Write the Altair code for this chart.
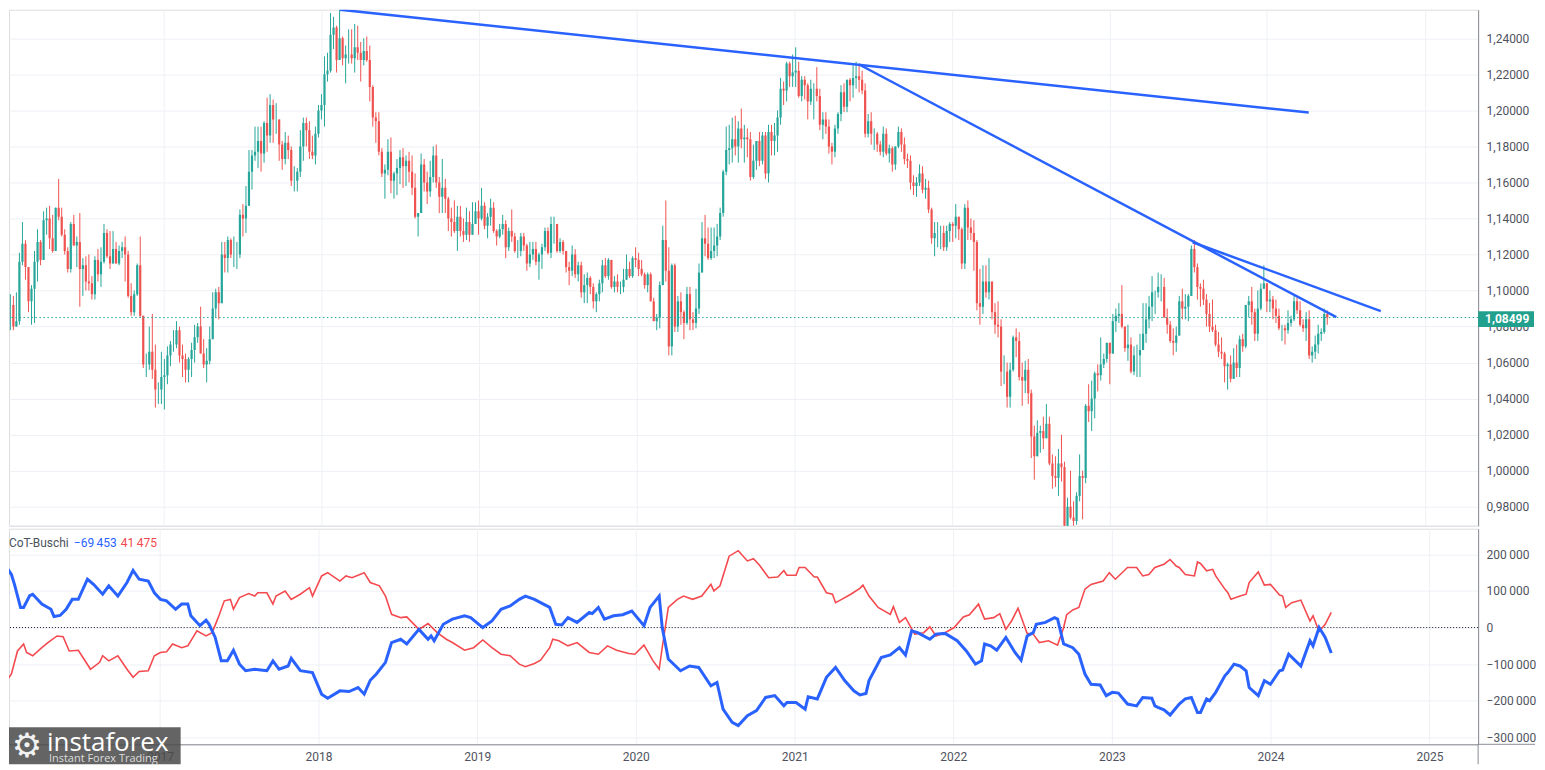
import altair as alt
import pandas as pd

# ---------------- weekly EUR/USD candles: (close, high, low) in 1/1000 ----------------
c2016 = [(1092,1097,1071),(1092,1098,1078),(1080,1097,1078),(1083,1099,1080),
         (1116,1121,1081),(1126,1138,1114),(1113,1128,1106),(1094,1112,1088),(1101,1103,1081),
         (1116,1122,1082),(1127,1134,1105),(1117,1128,1114),(1139,1144,1117),
         (1140,1146,1131),(1129,1147,1123),(1122,1142,1121),(1146,1146,1122),
         (1141,1162,1139),(1131,1146,1130),(1122,1134,1120),(1112,1124,1110),(1137,1138,1110),
         (1125,1142,1125),(1127,1130,1113),(1112,1143,1091),(1114,1118,1097),
         (1105,1119,1100),(1104,1120,1100),(1098,1108,1095),(1117,1119,1095),
         (1109,1123,1105),(1116,1124,1102),(1132,1137,1115),(1119,1134,1118),(1115,1133,1112),
         (1123,1133,1115),(1115,1127,1115),(1122,1125,1114),(1124,1127,1118),
         (1120,1130,1105),(1097,1122,1096),(1088,1104,1086),(1098,1100,1086),(1114,1115,1097),
         (1086,1130,1085),(1059,1085,1057),(1059,1065,1052),(1066,1080,1056),
         (1056,1087,1051),(1045,1070,1035),(1045,1049,1037),(1052,1066,1037)]
c2017 = [(1053,1062,1034),(1064,1069,1048),(1070,1072,1058),(1070,1078,1066),(1078,1083,1068),
         (1064,1080,1060),(1062,1070,1052),(1056,1065,1049),(1062,1063,1049),
         (1067,1071,1052),(1074,1081,1060),(1080,1082,1071),(1065,1091,1065),
         (1059,1073,1057),(1061,1068,1049),(1073,1080,1059),(1090,1099,1082),
         (1099,1101,1085),(1093,1102,1084),(1120,1127,1093),(1118,1127,1110),(1128,1130,1110),
         (1120,1129,1118),(1120,1130,1113),(1120,1127,1112),(1142,1145,1118),
         (1140,1148,1130),(1147,1158,1132),(1166,1178,1147),(1175,1178,1156),(1177,1191,1172),
         (1183,1191,1168),(1176,1191,1166),(1193,1194,1171),(1186,1207,1177),
         (1203,1209,1182),(1195,1206,1182),(1195,1204,1187),(1181,1195,1172),
         (1173,1183,1167),(1182,1188,1170),(1178,1186,1173),(1161,1180,1158),(1161,1169,1155),
         (1166,1168,1155),(1180,1189,1163),(1193,1196,1172),(1189,1196,1180),
         (1177,1194,1173),(1175,1186,1173),(1187,1191,1170),(1200,1203,1185)]
c2018 = [(1203,1209,1195),(1220,1230,1191),(1222,1232,1216),(1242,1254,1221),(1246,1252,1234),
         (1228,1247,1221),(1240,1256,1229),(1229,1241,1225),(1231,1236,1215),
         (1231,1245,1226),(1229,1245,1226),(1235,1248,1221),(1232,1247,1228),
         (1228,1238,1216),(1233,1240,1225),(1228,1241,1227),(1213,1236,1205),(1196,1214,1191),
         (1194,1199,1182),(1177,1199,1175),(1165,1179,1163),(1167,1170,1151),
         (1177,1184,1164),(1161,1185,1154),(1165,1166,1151),(1168,1173,1153),
         (1174,1178,1159),(1169,1179,1157),(1172,1175,1158),(1166,1177,1160),(1157,1175,1153),
         (1141,1165,1140),(1143,1143,1130),(1170,1176,1143),(1160,1173,1155),
         (1155,1166,1148),(1163,1172,1152),(1175,1180,1160),(1160,1181,1157),
         (1152,1163,1143),(1157,1173,1143),(1151,1162,1143),(1140,1152,1133),(1138,1146,1130),
         (1133,1150,1132),(1141,1147,1122),(1133,1147,1130),(1131,1140,1127),
         (1138,1146,1128),(1131,1144,1127),(1137,1149,1131),(1144,1149,1137),(1140,1150,1131)]
c2019 = [(1147,1157,1139),(1136,1149,1134),(1141,1143,1129),(1146,1151,1136),
         (1133,1149,1132),(1130,1134,1125),(1134,1137,1129),(1137,1142,1131),
         (1124,1139,1118),(1133,1135,1122),(1130,1145,1127),(1122,1132,1121),
         (1122,1128,1118),(1130,1132,1119),(1125,1132,1122),(1115,1126,1111),(1120,1127,1113),
         (1123,1127,1117),(1116,1127,1114),(1120,1121,1106),(1124,1126,1112),
         (1133,1135,1122),(1121,1135,1120),(1137,1141,1118),(1137,1141,1126),
         (1122,1136,1121),(1127,1129,1121),(1122,1128,1120),(1113,1122,1110),(1111,1116,1103),
         (1120,1125,1108),(1109,1123,1107),(1114,1116,1105),(1099,1116,1096),
         (1103,1109,1093),(1107,1110,1093),(1102,1108,1098),(1094,1104,1090),(1098,1099,1088),
         (1104,1106,1094),(1114,1117,1099),(1108,1118,1107),(1117,1118,1106),
         (1102,1117,1101),(1105,1108,1099),(1102,1109,1099),(1102,1105,1098),
         (1106,1112,1099),(1112,1120,1106),(1108,1116,1107),(1118,1119,1107),(1117,1124,1113)]
c2020 = [(1112,1121,1108),(1109,1117,1108),(1103,1110,1101),(1109,1110,1099),
         (1094,1110,1094),(1083,1096,1083),(1085,1087,1078),(1103,1105,1079),
         (1128,1136,1103),(1111,1150,1105),(1069,1124,1064),(1114,1115,1064),(1080,1115,1077),
         (1094,1097,1077),(1088,1099,1081),(1082,1089,1073),(1098,1102,1081),
         (1084,1102,1078),(1082,1088,1078),(1090,1101,1079),(1110,1115,1087),
         (1129,1138,1110),(1126,1142,1119),(1118,1135,1117),(1122,1135,1117),(1125,1135,1118),
         (1130,1137,1119),(1143,1146,1128),(1166,1167,1141),(1178,1191,1164),
         (1179,1192,1170),(1184,1196,1171),(1180,1197,1175),(1190,1194,1171),(1184,1201,1179),
         (1185,1192,1171),(1184,1190,1174),(1163,1188,1161),(1172,1181,1162),
         (1183,1183,1167),(1172,1188,1169),(1186,1188,1170),(1165,1188,1162),
         (1188,1192,1160),(1183,1192,1175),(1186,1193,1175),(1196,1200,1177),(1212,1218,1192),
         (1211,1216,1203),(1226,1227,1205),(1219,1227,1213),(1221,1231,1213)]
c2021 = [(1222,1235,1213),(1208,1227,1207),(1217,1219,1205),(1214,1219,1206),
         (1205,1215,1195),(1212,1217,1203),(1212,1215,1195),(1208,1224,1205),
         (1192,1212,1189),(1195,1199,1184),(1191,1199,1187),(1180,1195,1176),(1177,1182,1170),
         (1190,1192,1174),(1198,1199,1187),(1210,1214,1194),(1202,1215,1199),
         (1217,1217,1199),(1214,1218,1205),(1218,1225,1207),(1219,1227,1212),(1217,1225,1210),
         (1211,1222,1209),(1187,1215,1185),(1194,1198,1185),(1187,1199,1181),
         (1187,1190,1178),(1181,1188,1177),(1177,1183,1175),(1187,1191,1174),
         (1176,1190,1175),(1179,1181,1171),(1170,1180,1166),(1180,1180,1167),(1188,1191,1179),
         (1181,1190,1177),(1173,1185,1170),(1172,1176,1168),(1160,1175,1156),
         (1158,1164,1153),(1160,1163,1152),(1165,1170,1158),(1156,1169,1154),
         (1157,1162,1151),(1145,1161,1143),(1129,1146,1126),(1132,1138,1119),(1132,1138,1124),
         (1132,1136,1123),(1124,1136,1122),(1133,1136,1122),(1137,1138,1127)]
c2022 = [(1136,1138,1127),(1141,1148,1129),(1134,1139,1128),(1115,1135,1112),(1146,1148,1112),
         (1135,1150,1128),(1132,1140,1128),(1127,1139,1111),(1093,1128,1089),
         (1091,1112,1081),(1105,1114,1087),(1099,1114,1096),(1105,1118,1095),
         (1088,1104,1084),(1081,1093,1076),(1080,1094,1074),(1055,1084,1047),
         (1055,1064,1048),(1041,1060,1035),(1056,1060,1035),(1074,1075,1055),(1072,1079,1063),
         (1052,1077,1050),(1050,1060,1036),(1056,1061,1043),(1043,1062,1037),
         (1019,1045,1007),(1008,1025,995),(1021,1028,1008),(1022,1025,1010),
         (1018,1030,1012),(1026,1037,1018),(1004,1030,1003),(997,1009,990),(996,1008,991),
         (1004,1012,986),(1002,1020,994),(969,1005,967),(980,985,954),
         (974,1000,973),(972,983,963),(986,988,970),(997,1009,983),(996,1000,973),
         (1036,1037,993),(1033,1048,1027),(1040,1050,1022),(1054,1055,1029),
         (1053,1059,1044),(1059,1074,1050),(1062,1065,1057),(1071,1071,1060)]
c2023 = [(1065,1071,1048),(1083,1087,1066),(1086,1090,1077),(1087,1093,1082),(1080,1103,1079),
         (1068,1080,1066),(1070,1081,1061),(1055,1074,1054),(1064,1069,1053),
         (1064,1070,1052),(1067,1076,1052),(1076,1093,1072),(1084,1093,1071),
         (1091,1097,1079),(1099,1108,1083),(1099,1100,1087),(1102,1110,1096),
         (1102,1109,1094),(1085,1107,1085),(1081,1090,1076),(1072,1083,1071),(1071,1079,1064),
         (1075,1080,1066),(1094,1097,1075),(1090,1101,1084),(1091,1098,1084),
         (1097,1098,1083),(1123,1125,1097),(1113,1128,1110),(1102,1115,1095),(1101,1104,1091),
         (1095,1106,1092),(1087,1098,1080),(1080,1093,1077),(1078,1095,1077),
         (1070,1081,1069),(1066,1077,1063),(1065,1074,1062),(1058,1066,1049),
         (1059,1060,1045),(1051,1064,1049),(1060,1068,1052),(1057,1070,1052),(1073,1075,1052),
         (1069,1076,1066),(1092,1092,1068),(1094,1097,1085),(1088,1102,1081),
         (1076,1090,1072),(1090,1100,1072),(1101,1104,1089),(1104,1114,1101)]
c2024 = [(1094,1104,1088),(1095,1100,1088),(1090,1097,1084),(1086,1095,1082),(1079,1090,1078),
         (1079,1081,1072),(1078,1081,1070),(1082,1089,1076),(1084,1086,1080),
         (1094,1098,1083),(1089,1097,1087),(1081,1094,1080),(1079,1084,1077),
         (1084,1088,1072),(1064,1089,1062),(1066,1069,1060),(1070,1075,1062),
         (1076,1081,1065),(1077,1079,1072),(1087,1090,1076),(1085,1089,1081)]
FIRST_OPEN = 1086
LAST_PRICE = 1.08499

# ---------------- CoT net positions: (week index, thousands) ----------------
blue_net = [(0,182),(3,145),(4,118),(6,55),(7,55),(9,87),(10,91),(13,64),(16,50),(17,30),(19,33),(21,50),(23,77),(25,77),(28,132),(30,118),(33,91),(35,114),(38,86),(41,123),(43,156),(45,132),(48,127),(50,95),(52,77),(54,73),(57,50),(59,64),(61,64),(62,32),(65,5),(67,20),(68,9),(70,-27),(72,-91),(74,-91),(76,-62),(78,-100),(80,-118),(83,-114),(85,-116),(87,-118),(89,-91),(91,-114),(94,-105),(95,-84),(98,-118),(102,-123),(105,-182),(107,-193),(111,-173),(114,-175),(117,-164),(119,-182),(121,-144),(123,-127),(126,-95),(128,-41),(131,-32),(133,-45),(137,-5),(140,-32),(141,-23),(142,-36),(145,9),(148,23),(152,32),(154,27),(158,0),(161,18),(164,50),(167,59),(170,77),(172,86),(175,77),(177,68),(180,55),(182,9),(184,7),(186,27),(189,14),(193,41),(194,38),(196,55),(198,23),(201,32),(204,35),(207,45),(211,5),(213,55),(216,86),(217,0),(219,-86),(223,-118),(226,-105),(229,-109),(233,-159),(235,-150),(237,-223),(240,-259),(242,-268),(245,-241),(248,-227),(251,-191),(254,-186),(257,-214),(258,-205),(261,-205),(264,-223),(265,-189),(268,-195),(271,-136),(274,-109),(277,-145),(280,-173),(282,-184),(284,-180),(285,-145),(289,-82),(292,-75),(295,-55),(297,-75),(299,-9),(301,-14),(305,-32),(307,-18),(310,-16),(314,-36),(317,-64),(320,-100),(322,-91),(323,-45),(325,-50),(327,-62),(330,-27),(333,-68),(335,-89),(337,-23),(339,-14),(340,9),(343,14),(346,27),(347,23),(349,-45),(352,-55),(354,-73),(356,-127),(358,-155),(361,-157),(363,-186),(365,-177),(367,-179),(370,-209),(373,-214),(375,-191),(378,-193),(379,-214),(380,-218),(382,-225),(384,-239),(387,-209),(389,-195),(391,-191),(393,-232),(394,-232),(396,-195),(397,-200),(399,-177),(402,-132),(403,-123),(405,-100),(407,-105),(409,-118),(410,-164),(413,-186),(415,-145),(417,-155),(420,-118),(421,-116),(423,-73),(425,-89),(427,-105),(430,-36),(431,-50),(433,0),(435,-27),(437,-69.453)]
red_net = [(0,-162),(3,-127),(5,-64),(7,-45),(8,-68),(10,-77),(13,-55),(15,-41),(18,-23),(20,-25),(22,-64),(25,-62),(29,-114),(32,-95),(33,-77),(35,-91),(38,-77),(41,-114),(43,-136),(45,-120),(48,-118),(50,-77),(52,-68),(54,-66),(56,-45),(59,-55),(61,-50),(64,-9),(67,-23),(69,-14),(71,27),(73,73),(75,77),(76,50),(78,82),(81,93),(83,86),(84,95),(87,95),(89,64),(90,86),(93,100),(95,77),(98,91),(101,109),(102,86),(105,141),(107,150),(111,127),(113,141),(115,136),(119,150),(121,123),(124,114),(126,86),(128,36),(131,27),(133,29),(137,-5),(140,11),(143,-14),(146,-32),(148,-41),(152,-62),(155,-55),(158,-34),(161,-55),(164,-73),(167,-77),(170,-100),(172,-107),(175,-98),(177,-89),(180,-55),(181,-32),(183,-36),(186,-50),(189,-41),(193,-68),(196,-73),(199,-50),(202,-62),(206,-71),(208,-73),(211,-48),(214,-91),(216,-114),(217,-55),(219,55),(222,77),(224,86),(227,77),(230,86),(233,118),(234,100),(236,114),(239,195),(242,210),(245,182),(247,188),(249,170),(252,136),(255,138),(257,156),(258,143),(261,143),(262,164),(264,164),(267,138),(268,138),(271,95),(273,91),(274,68),(276,77),(279,91),(282,107),(283,116),(285,86),(288,55),(292,36),(293,57),(295,14),(297,27),(300,-18),(303,-14),(305,2),(307,-23),(310,-14),(313,0),(316,29),(318,35),(321,64),(323,23),(326,27),(328,38),(330,-5),(332,20),(334,53),(337,-16),(339,-18),(341,-41),(344,-36),(347,-48),(349,0),(350,35),(352,48),(354,55),(356,105),(358,118),(362,127),(364,150),(366,132),(370,164),(373,164),(375,141),(377,145),(379,164),(382,173),(384,186),(386,168),(387,164),(389,145),(392,141),(393,179),(394,175),(396,155),(398,159),(399,141),(402,105),(403,95),(404,77),(407,86),(409,91),(410,123),(413,152),(415,116),(417,118),(420,89),(421,86),(422,55),(424,68),(427,75),(430,18),(431,32),(433,-11),(435,9),(437,41.475)]

# ---------------- trend lines: (id, date, price) ----------------
trend_pts = [("a", "2018-02-13", 1.2559), ("a", "2024-04-07", 1.1988),
             ("b", "2021-05-30", 1.2256), ("b", "2024-06-10", 1.0852),
             ("c", "2023-07-13", 1.1268), ("c", "2024-09-21", 1.0886)]

YEARS = list(range(2017, 2026))
PRICE_TICKS = [0.98, 1.00, 1.02, 1.04, 1.06, 1.08, 1.10, 1.12, 1.14, 1.16, 1.18, 1.20, 1.22, 1.24]
COT_TICKS = [-300000, -200000, -100000, 0, 100000, 200000]

# ---------------- build tables ----------------
candles = c2016 + c2017 + c2018 + c2019 + c2020 + c2021 + c2022 + c2023 + c2024
weeks = pd.date_range("2016-01-04", periods=len(candles), freq="7D")
recs = []
prev = FIRST_OPEN
for d, (c, h, l) in zip(weeks, candles):
    o = prev
    recs.append({"date": d, "open": o / 1000, "close": c / 1000,
                 "high": max(h, o, c) / 1000, "low": min(l, o, c) / 1000,
                 "dir": "up" if c >= o else "down"})
    prev = c
cdf = pd.DataFrame(recs)

bdf = pd.DataFrame({"date": [weeks[w] for w, _ in blue_net], "v": [v * 1000 for _, v in blue_net]})
rdf = pd.DataFrame({"date": [weeks[w] for w, _ in red_net], "v": [v * 1000 for _, v in red_net]})
tdf = pd.DataFrame({"id": [t[0] for t in trend_pts],
                    "date": [pd.Timestamp(t[1]) for t in trend_pts],
                    "price": [t[2] for t in trend_pts]})
pdf = pd.DataFrame({"p": [LAST_PRICE], "p1": [LAST_PRICE + 0.0035], "p2": [LAST_PRICE - 0.0052],
                    "pt": [LAST_PRICE - 0.0009],
                    "label": [f"{LAST_PRICE:.5f}".replace(".", ",")]})
dummy = pd.DataFrame({"a": [0]})

UP, DOWN = "#26a69a", "#ef5350"
BLUE, RED = "#2962ff", "#f44a4f"
GRID = "#eef0f5"
AXC = "#8a8d96"
LBL = "#50535e"
FONT = "Roboto"

W = 1472          # plot width (both panels)
H_TOP = 517
H_BOT = 216

year_vals = [alt.DateTime(year=y, month=1, date=1) for y in YEARS]
xscale = alt.Scale(domain=[alt.DateTime(year=2016, month=1, date=19, hours=10),
                           alt.DateTime(year=2025, month=4, date=23)])

top_xaxis = alt.Axis(values=year_vals, labels=False, ticks=False, domain=True,
                     domainColor="#e0e3eb", grid=True, gridColor=GRID, title=None)
bot_xaxis = alt.Axis(values=year_vals, format="%Y", labelFont=FONT, labelFontSize=12,
                     labelColor=LBL, ticks=False, labelPadding=7, domain=True,
                     domainColor=AXC, grid=True, gridColor=GRID, title=None, labelFlush=False)

def xt(field="date"):
    return alt.X(f"{field}:T", scale=xscale, axis=top_xaxis)

def xb(field="date"):
    return alt.X(f"{field}:T", scale=xscale, axis=bot_xaxis)

ytop_scale = alt.Scale(domain=[0.96944, 1.25587], nice=False, zero=False)
ytop_axis = alt.Axis(orient="right", values=PRICE_TICKS,
                     labelExpr="replace(format(datum.value, '.5f'), '.', ',')",
                     grid=True, gridColor=GRID, ticks=False, labelPadding=8, domain=True,
                     domainColor=AXC, title=None, labelFont=FONT, labelFontSize=12,
                     labelColor=LBL)

def yt(field):
    return alt.Y(f"{field}:Q", scale=ytop_scale, axis=ytop_axis)

ybot_scale = alt.Scale(domain=[-319000, 270000], nice=False, zero=False)
ybot_axis = alt.Axis(orient="right", values=COT_TICKS,
                     labelExpr="datum.value == 0 ? '0' : (datum.value < 0 ? '\u2212' : '') + replace(format(abs(datum.value), ','), ',', '\u2009')",
                     grid=True, gridColor=GRID, ticks=False, labelPadding=8, domain=True,
                     domainColor=AXC, title=None, labelFont=FONT, labelFontSize=12,
                     labelColor=LBL)

def yb(field):
    return alt.Y(f"{field}:Q", scale=ybot_scale, axis=ybot_axis)

color = alt.Color("dir:N", scale=alt.Scale(domain=["up", "down"], range=[UP, DOWN]), legend=None)

# ---------------- top panel ----------------
wicks = alt.Chart(cdf).mark_rule(strokeWidth=1, clip=True).encode(
    x=xt(), y=yt("low"), y2="high:Q", color=color)
bodies = alt.Chart(cdf).mark_bar(size=2.2, clip=True).encode(
    x=xt(), y=yt("open"), y2="close:Q", color=color)
trend = alt.Chart(tdf).mark_line(color=BLUE, strokeWidth=2.5, clip=True).encode(
    x=xt(), y=yt("price"), detail="id:N")
pline = alt.Chart(pdf).mark_rule(color=UP, strokeDash=[1.5, 2.5], strokeWidth=1).encode(y=yt("p"))
pbox = alt.Chart(pdf).mark_rect(color="#22a08e").encode(
    x=alt.value(W), x2=alt.value(W + 56), y=yt("p1"), y2="p2:Q")
ptext = alt.Chart(pdf).mark_text(align="left", baseline="middle", color="white", font=FONT,
                                 fontSize=12, fontWeight="bold").encode(
    x=alt.value(W + 7), y=yt("pt"), text="label:N")

top = alt.layer(wicks, bodies, trend, pline, pbox, ptext).properties(width=W, height=H_TOP)

# ---------------- bottom panel ----------------
zero = alt.Chart(dummy).mark_rule(color="#131722", strokeDash=[1, 2], strokeWidth=1).encode(
    y=alt.Y(datum=0, scale=ybot_scale, axis=ybot_axis))
red_line = alt.Chart(rdf).mark_line(color=RED, strokeWidth=1.6, clip=True).encode(x=xb(), y=yb("v"))
blue_line = alt.Chart(bdf).mark_line(color=BLUE, strokeWidth=3, clip=True).encode(x=xb(), y=yb("v"))

leg1 = alt.Chart(dummy).mark_text(align="left", baseline="middle", font=FONT, fontSize=12,
                                  color="#4c525e", text="CoT-Buschi").encode(
    x=alt.value(0), y=alt.value(14))
leg2 = alt.Chart(dummy).mark_text(align="left", baseline="middle", font=FONT, fontSize=12,
                                  color=BLUE, text="\u221269\u2009453").encode(
    x=alt.value(65), y=alt.value(14))
leg3 = alt.Chart(dummy).mark_text(align="left", baseline="middle", font=FONT, fontSize=12,
                                  color=RED, text="41\u2009475").encode(
    x=alt.value(112), y=alt.value(14))

ext_v = alt.Chart(dummy).mark_rule(color=AXC, strokeWidth=1).encode(
    x=alt.value(W), y=alt.value(H_BOT), y2=alt.value(H_BOT + 20))
ext_h = alt.Chart(dummy).mark_rule(color=AXC, strokeWidth=1).encode(
    x=alt.value(W), x2=alt.value(W + 57), y=alt.value(H_BOT))

logo_box = alt.Chart(dummy).mark_rect(color="#4a4a4a", opacity=0.86).encode(
    x=alt.value(0), x2=alt.value(172), y=alt.value(199), y2=alt.value(236))
logo_gear = alt.Chart(dummy).mark_text(text="\u2699", font="DejaVu Sans", fontSize=34,
                                       color="#f2f2f2", baseline="middle").encode(
    x=alt.value(18), y=alt.value(219))
logo_t1 = alt.Chart(dummy).mark_text(text="instaforex", font="Open Sans", fontSize=26,
                                     color="white", align="left", baseline="alphabetic").encode(
    x=alt.value(38), y=alt.value(223))
logo_t2 = alt.Chart(dummy).mark_text(text="Instant Forex Trading", font="Open Sans", fontSize=11,
                                     color="#dddddd", align="left", baseline="alphabetic").encode(
    x=alt.value(40), y=alt.value(234))

bottom = alt.layer(zero, red_line, blue_line, leg1, leg2, leg3, ext_v, ext_h,
                   logo_box, logo_gear, logo_t1, logo_t2).properties(width=W, height=H_BOT)

chart = alt.vconcat(top, bottom, spacing=1, padding=0).configure_view(
    stroke=None).configure(background="white")

chart.save("out.html", embed_options={"renderer": "svg", "actions": False})
